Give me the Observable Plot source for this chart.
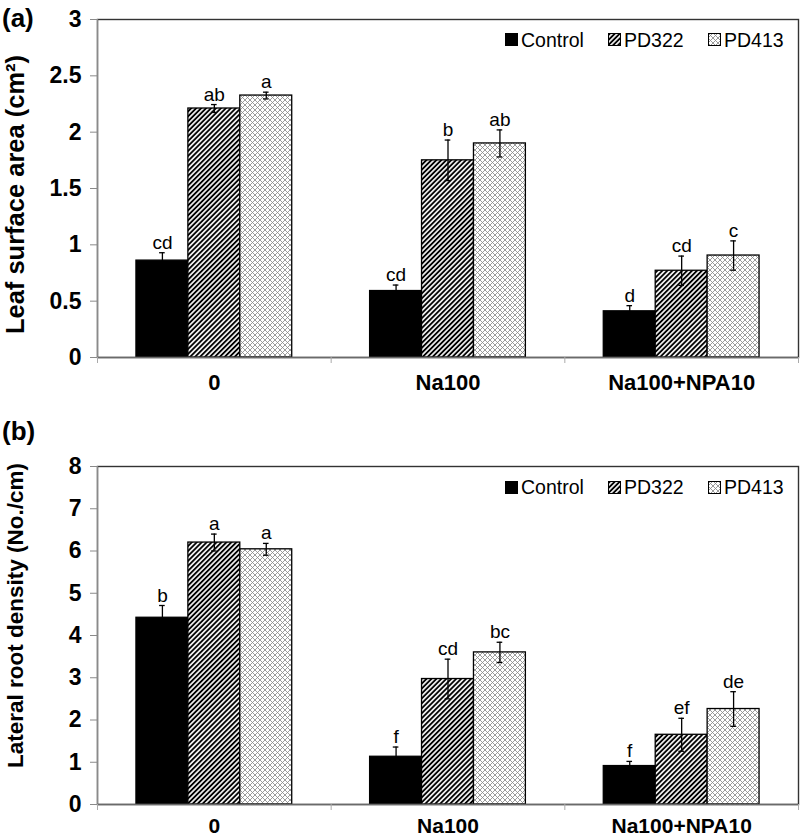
<!DOCTYPE html>
<html>
<head>
<meta charset="utf-8">
<script src="https://cdn.jsdelivr.net/npm/d3@7"></script>
<script src="https://cdn.jsdelivr.net/npm/@observablehq/plot@0.6"></script>
<style>
  body { margin: 0; background: #fff; font-family: "Liberation Sans", Arial, sans-serif; }
  #wrap { position: relative; width: 800px; height: 840px; overflow: hidden; }
  .panel { position: absolute; left: 0; width: 800px; }
  .plabel { position: absolute; left: 2px; font-weight: bold; font-size: 26px; line-height: 26px; }
  .litem { position: absolute; display: flex; align-items: center; height: 22px; font-size: 19.5px; line-height: 22px; }
  .litem svg { margin-right: 3px; }
  g[aria-label="y-axis tick label"] text, g[aria-label="x-axis tick label"] text { font-weight: bold; }
</style>
</head>
<body>
<svg width="0" height="0" style="position:absolute">
  <defs>
    <pattern id="hatch" width="3.5" height="3.5" patternUnits="userSpaceOnUse" patternTransform="rotate(45)">
      <rect width="3.5" height="3.5" fill="white"></rect>
      <line x1="1.75" y1="-1" x2="1.75" y2="5" stroke="black" stroke-width="1.9"></line>
    </pattern>
    <pattern id="cross" width="5" height="5" patternUnits="userSpaceOnUse">
      <rect width="5" height="5" fill="white"></rect>
      <path d="M0,0L5,5M5,0L0,5" stroke="#8a8a8a" stroke-width="0.85" fill="none"></path>
    </pattern>
  </defs>
</svg>
<div id="wrap"></div>
<script>
// ---------- data ----------
const categories = ["0", "Na100", "Na100+NPA10"];
const series = ["Control", "PD322", "PD413"];

// (a) Leaf surface area (cm²)
const leafControl    = [0.86, 0.59, 0.41];
const leafControlErr = [0.07, 0.053, 0.05];
const leafPD322      = [2.21, 1.75, 0.77];
const leafPD322Err   = [0.035, 0.18, 0.13];
const leafPD413      = [2.325, 1.90, 0.905];
const leafPD413Err   = [0.03, 0.12, 0.13];
const leafLettersControl = ["cd", "cd", "d"];
const leafLettersPD322   = ["ab", "b", "cd"];
const leafLettersPD413   = ["a", "ab", "c"];
const leafTicks = [0, 0.5, 1, 1.5, 2, 2.5, 3];

// (b) Lateral root density (No./cm)
const rootControl    = [4.42, 1.13, 0.91];
const rootControlErr = [0.29, 0.23, 0.11];
const rootPD322      = [6.20, 2.97, 1.65];
const rootPD322Err   = [0.20, 0.47, 0.39];
const rootPD413      = [6.04, 3.60, 2.26];
const rootPD413Err   = [0.14, 0.24, 0.41];
const rootLettersControl = ["b", "f", "f"];
const rootLettersPD322   = ["a", "cd", "ef"];
const rootLettersPD413   = ["a", "bc", "de"];
const rootTicks = [0, 1, 2, 3, 4, 5, 6, 7, 8];

const fills = ["black", "url(#hatch)", "url(#cross)"];
const GAP = 1.5; // Excel gap width 150%
const barW = 1 / (series.length + GAP);
const capHalf = 0.012;

function buildRows(values, errs, letters) {
  const rows = [];
  categories.forEach((c, ci) => series.forEach((s, si) => {
    rows.push({cat: c, ci, series: s, si, value: values[si][ci], err: errs[si][ci], letter: letters[si][ci]});
  }));
  return rows;
}

function panel({rows, ticks, yLabel, height, marginTop, marginBottom, labelSize, labelDy, catPad, catSize}) {
  const x1 = d => d.ci + (d.si - series.length / 2) * barW;
  const x2 = d => x1(d) + barW;
  const xc = d => x1(d) + barW / 2;
  const hi = d => d.value + d.err;
  const lo = d => d.value - d.err;
  const xMin = -0.5, xMax = categories.length - 0.5;
  const bounds = d3.range(categories.length + 1).map(i => i - 0.5);
  return Plot.plot({
    width: 800,
    height,
    marginLeft: 97,
    marginRight: 2,
    marginTop,
    marginBottom,
    style: {fontFamily: '"Liberation Sans", Arial, sans-serif', fontSize: "19px", color: "black", overflow: "visible", background: "white"},
    x: {type: "linear", domain: [xMin, xMax]},
    y: {domain: [ticks[0], ticks[ticks.length - 1]]},
    color: {type: "ordinal", domain: series, range: fills},
    marks: [
      Plot.rectY(rows, {x1, x2, y: "value", fill: "series", stroke: "black", strokeWidth: 1.3}),
      Plot.ruleX(rows, {x: xc, y1: lo, y2: hi, stroke: "black", strokeWidth: 1.3}),
      Plot.ruleY(rows, {y: hi, x1: d => xc(d) - capHalf, x2: d => xc(d) + capHalf, stroke: "black", strokeWidth: 1.3}),
      Plot.ruleY(rows, {y: lo, x1: d => xc(d) - capHalf, x2: d => xc(d) + capHalf, stroke: "black", strokeWidth: 1.3}),
      Plot.text(rows, {x: xc, y: hi, text: "letter", lineAnchor: "bottom", dy: -4, fontSize: 19}),
      Plot.frame({stroke: "#333", strokeWidth: 1.4}),
      Plot.ruleX([xMin], {stroke: "#8a8a8a", strokeWidth: 1.3}),
      Plot.ruleY([ticks[0]], {stroke: "#6a6a6a", strokeWidth: 1.4}),
      Plot.axisY(ticks, {tickSize: 7, tickPadding: 9, tickFormat: d => String(d), stroke: "#8a8a8a", fontSize: 23, fontWeight: "bold", label: null}),
      Plot.axisX(bounds, {tickSize: 6, tickFormat: () => "", stroke: "#aaa", label: null}),
      Plot.axisX(d3.range(categories.length), {tickSize: 0, tickPadding: catPad, tickFormat: i => categories[i], fontSize: catSize, fontWeight: "bold", label: null}),
      Plot.text([yLabel], {frameAnchor: "left", textAnchor: "middle", rotate: -90, dx: -82, dy: labelDy, fontSize: labelSize, fontWeight: "bold"})
    ]
  });
}

function legend(container, top) {
  const lefts = [505, 608, 708];
  series.forEach((s, i) => {
    const item = document.createElement("div");
    item.className = "litem";
    item.style.left = lefts[i] + "px";
    item.style.top = (top - 11) + "px";
    item.innerHTML = `<svg width="13" height="13"><rect x="0.5" y="0.5" width="12" height="12" fill="${fills[i]}" stroke="black" stroke-width="1"></rect></svg><span>${s}</span>`;
    container.appendChild(item);
  });
}

const wrap = document.getElementById("wrap");

const pa = document.createElement("div");
pa.className = "panel"; pa.style.top = "0px";
pa.appendChild(panel({
  rows: buildRows([leafControl, leafPD322, leafPD413], [leafControlErr, leafPD322Err, leafPD413Err], [leafLettersControl, leafLettersPD322, leafLettersPD413]),
  ticks: leafTicks, yLabel: "Leaf surface area (cm²)", height: 395, marginTop: 19, marginBottom: 38, labelSize: 25.5, labelDy: 6, catPad: 17, catSize: 22
}));
wrap.appendChild(pa);

const pb = document.createElement("div");
pb.className = "panel"; pb.style.top = "400px";
pb.appendChild(panel({
  rows: buildRows([rootControl, rootPD322, rootPD413], [rootControlErr, rootPD322Err, rootPD413Err], [rootLettersControl, rootLettersPD322, rootLettersPD413]),
  ticks: rootTicks, yLabel: "Lateral root density (No./cm)", height: 440, marginTop: 66, marginBottom: 36, labelSize: 22.5, labelDy: -20, catPad: 14, catSize: 21
}));
wrap.appendChild(pb);

legend(wrap, 39.5);
legend(wrap, 487);

const la = document.createElement("div");
la.className = "plabel"; la.style.top = "5px"; la.textContent = "(a)";
wrap.appendChild(la);
const lb = document.createElement("div");
lb.className = "plabel"; lb.style.top = "418px"; lb.textContent = "(b)";
wrap.appendChild(lb);
</script>
</body>
</html>
